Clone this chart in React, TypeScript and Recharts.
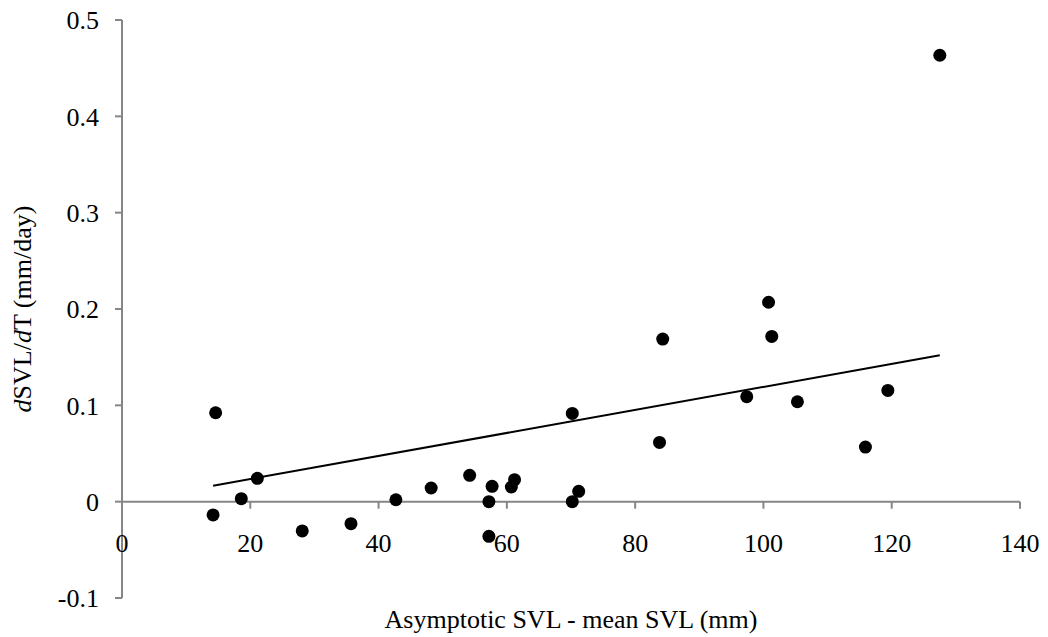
import React from 'react';
import {
  ScatterChart,
  Scatter,
  XAxis,
  YAxis,
  ReferenceLine,
  ReferenceDot,
} from 'recharts';

// values
const svlDiff = [
  14.2, 14.6, 18.6, 21.1, 28.1, 35.7, 42.7, 48.2, 54.2, 57.2, 57.2, 57.7, 60.7,
  61.2, 70.2, 70.2, 71.2, 83.8, 84.3, 97.4, 100.8, 101.3, 105.3, 115.9, 119.4,
  127.5,
];
const growthRate = [
  -0.0138, 0.0923, 0.0031, 0.0242, -0.0304, -0.0228, 0.002, 0.0142, 0.0273, 0.0,
  -0.036, 0.0159, 0.0152, 0.0228, 0.0916, 0.0, 0.0107, 0.0615, 0.1688, 0.109,
  0.207, 0.1715, 0.1037, 0.0567, 0.1155, 0.4634,
];

// trendline end points
const trendX = [14.2, 127.5];
const trendY = [0.0166, 0.152];

const xTicks = [0, 20, 40, 60, 80, 100, 120, 140];
const yTicks = [-0.1, 0, 0.1, 0.2, 0.3, 0.4, 0.5];

const FONT = '"Liberation Serif", "Times New Roman", serif';
const AXIS = '#868686';

const points = svlDiff.map((x, i) => ({ x, y: growthRate[i] }));
const trend = trendX.map((x, i) => ({ x, y: trendY[i] }));

const XTick = (props: any) => {
  const { cx, cy, value } = props;
  return (
    <g>
      <line x1={cx} y1={cy} x2={cx} y2={cy + 7} stroke={AXIS} strokeWidth={2} />
      <text
        x={cx}
        y={cy + 50}
        textAnchor="middle"
        fontSize={26}
        fontFamily={FONT}
        fill="#000"
      >
        {value}
      </text>
    </g>
  );
};

const YLabel = (props: any) => {
  const vb = props.viewBox || { x: 0, y: 0, width: 0, height: 0 };
  const cx = vb.x + 23;
  const cy = vb.y + vb.height / 2;
  return (
    <text
      x={cx}
      y={cy}
      transform={`rotate(-90 ${cx} ${cy})`}
      textAnchor="middle"
      fontSize={26}
      fontFamily={FONT}
      fill="#000"
    >
      <tspan fontStyle="italic">d</tspan>
      <tspan>SVL/</tspan>
      <tspan fontStyle="italic">d</tspan>
      <tspan>T (mm/day)</tspan>
    </text>
  );
};

const Dot = (props: any) => <circle cx={props.cx} cy={props.cy} r={6.5} fill="#000" />;

export default function App() {
  return (
    <div style={{ fontFamily: FONT }}>
      <ScatterChart
        width={1040}
        height={629}
        margin={{ top: 12, right: 28, bottom: 0, left: 0 }}
        style={{ overflow: 'visible' }}
      >
        <XAxis
          type="number"
          dataKey="x"
          domain={[0, 140]}
          ticks={xTicks}
          height={39}
          axisLine={false}
          tickLine={false}
          tick={false}
          label={{
            value: 'Asymptotic SVL - mean SVL (mm)',
            position: 'insideBottom',
            offset: 9,
            fontSize: 26,
            fontFamily: FONT,
            fill: '#000',
          }}
        />
        <YAxis
          type="number"
          dataKey="y"
          domain={[-0.1, 0.5]}
          ticks={yTicks}
          width={114}
          interval={0}
          axisLine={{ stroke: AXIS, strokeWidth: 2 }}
          tickLine={{ stroke: AXIS, strokeWidth: 2 }}
          tickSize={7}
          tickMargin={16}
          tick={{ fill: '#000', fontSize: 26, fontFamily: FONT }}
          tickFormatter={(v: number) => String(v)}
          label={<YLabel />}
        />
        <ReferenceLine y={0} stroke={AXIS} strokeWidth={2} ifOverflow="visible" />
        {xTicks.map((t) => (
          <ReferenceDot
            key={t}
            x={t}
            y={0}
            r={0}
            ifOverflow="visible"
            shape={(p: any) => <XTick {...p} value={t} />}
          />
        ))}
        <Scatter
          data={trend}
          line={{ stroke: '#000', strokeWidth: 2 }}
          shape={() => <g />}
          isAnimationActive={false}
        />
        <Scatter data={points} fill="#000" shape={Dot} isAnimationActive={false} />
      </ScatterChart>
    </div>
  );
}
